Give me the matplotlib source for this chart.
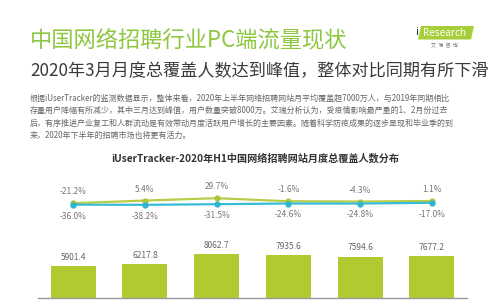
import matplotlib
matplotlib.use("Agg")
import matplotlib.pyplot as plt
from matplotlib.patches import Polygon

plt.rcParams["font.family"] = ["Noto Sans CJK SC", "DejaVu Sans"]

# data
months = ["1月", "2月", "3月", "4月", "5月", "6月"]
coverage = [5901.4, 6217.8, 8062.7, 7935.6, 7594.6, 7677.2]   # 万人
mom_growth = [-21.2, 5.4, 29.7, -1.6, -4.3, 1.1]               # %
yoy_growth = [-36.0, -38.2, -31.5, -24.6, -24.8, -17.0]        # %

title = "中国网络招聘行业PC端流量现状"
subtitle = "2020年3月月度总覆盖人数达到峰值，整体对比同期有所下滑"
body = [
    "根据iUserTracker的监测数据显示，整体来看，2020年上半年网络招聘网站月平均覆盖超7000万人，与2019年同期相比",
    "存量用户降幅有所减少，其中三月达到峰值，用户数量突破8000万。艾瑞分析认为，受疫情影响最严重的1、2月份过去",
    "后，有序推进产业复工和人群流动是有效带动月度活跃用户增长的主要因素。随着科学防疫成果的逐步显现和毕业季的到",
    "来，2020年下半年的招聘市场也将更有活力。",
]
chart_title = "iUserTracker-2020年H1中国网络招聘网站月度总覆盖人数分布"

W, H = 500, 300
fig = plt.figure(figsize=(5, 3), dpi=100)
fig.patch.set_facecolor("white")


def fx(px):
    return px / W


def fy(py):
    return 1 - py / H


# headings
fig.text(fx(30), fy(41), title, color="#8DC63F", fontsize=16, va="center", ha="left")
fig.text(fx(30), fy(71), subtitle, color="#3a3a3a", fontsize=12.3, va="center", ha="left")
for i, line in enumerate(body):
    fig.text(fx(30), fy(98 + i * 12.6), line, color="#666666", fontsize=5.75,
             va="center", ha="left")
fig.text(fx(255), fy(158), chart_title, color="#333333", fontsize=7.3,
         fontweight="bold", va="center", ha="center")

# iResearch logo
logo = Polygon([[fx(418), fy(39.5)], [fx(421), fy(26)], [fx(474), fy(26)], [fx(471), fy(39.5)]],
               closed=True, transform=fig.transFigure, facecolor="#A6CE39", edgecolor="none")
fig.patches.append(logo)
fig.text(fx(445), fy(33), "Research", color="white", fontsize=7.2, ha="center",
         va="center", family=["Noto Sans", "DejaVu Sans"])
fig.text(fx(417), fy(32.5), "i", color="#2a2a2a", fontsize=8, ha="center", va="center",
         family=["Noto Sans", "DejaVu Sans"], fontweight="bold")
fig.text(fx(444), fy(45.5), "艾  瑞  咨  询", color="#777777", fontsize=3.6,
         ha="center", va="center")

# bars
x = list(range(len(months)))
ax = fig.add_axes([fx(38), fy(298), fx(467) - fx(38), (298 - 235) / H])
ax.bar(x, coverage, width=0.63, color="#B0CB2F")
ax.set_xlim(-0.49, 5.49)
ax.set_ylim(0, max(coverage) * 63 / 44)
for xi, v in zip(x, coverage):
    ax.annotate(f"{v:.1f}", (xi, v), xytext=(0, 3), textcoords="offset points",
                ha="center", va="bottom", fontsize=6, color="#666666")
for s in ["top", "right", "left"]:
    ax.spines[s].set_visible(False)
ax.spines["bottom"].set_color("#999999")
ax.spines["bottom"].set_linewidth(1.0)
ax.set_xticks([])
ax.set_yticks([])
ax.patch.set_alpha(0)

# growth lines
lax = fig.add_axes([fx(38), fy(222), fx(467) - fx(38), 42 / H])
lax.set_xlim(-0.49, 5.49)
lax.set_ylim(-213, 215)
lax.plot(x, mom_growth, color="#BCCB45", lw=1.6, marker="o", ms=3.5,
         markerfacecolor="#A8C83A", markeredgecolor="#A8C83A")
lax.plot(x, yoy_growth, color="#38BCD6", lw=1.6, marker="o", ms=3.5,
         markerfacecolor="#2FB5D2", markeredgecolor="#2FB5D2")
for xi, v in zip(x, mom_growth):
    lax.annotate(f"{v:.1f}%", (xi, v), xytext=(0, 5), textcoords="offset points",
                 ha="center", va="bottom", fontsize=6, color="#777777")
for xi, v in zip(x, yoy_growth):
    lax.annotate(f"{v:.1f}%", (xi, v), xytext=(0, -5), textcoords="offset points",
                 ha="center", va="top", fontsize=6, color="#777777")
lax.axis("off")

fig.savefig("out.png", dpi=100)
